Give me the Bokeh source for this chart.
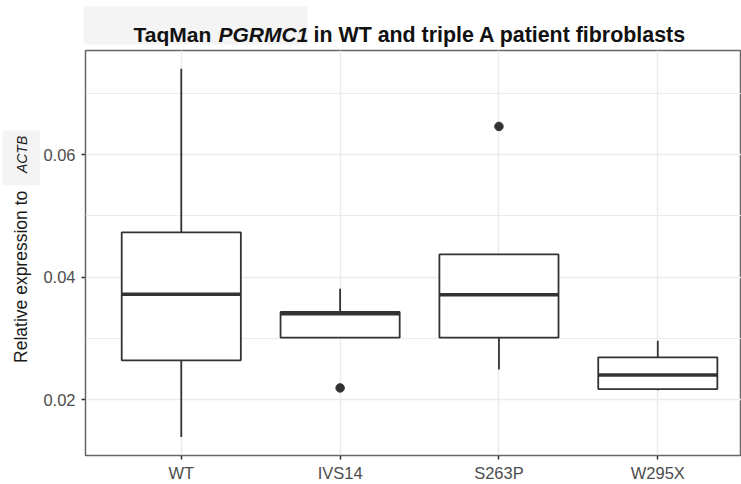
from math import pi
from bokeh.plotting import figure
from bokeh.layouts import column, row
from bokeh.models import Range1d, FixedTicker, NumeralTickFormatter, ColumnDataSource
from bokeh.core.properties import value
from bokeh.transform import dodge
from bokeh.embed import file_html
from bokeh.resources import INLINE

# ---- data ----
categories = ["WT", "IVS14", "S263P", "W295X"]
whisker_low = [0.0139, 0.0301, 0.0249, 0.0215]
q1 = [0.0264, 0.0301, 0.0301, 0.0217]
median = [0.0372, 0.0340, 0.0371, 0.0240]
q3 = [0.0473, 0.0343, 0.0437, 0.0269]
whisker_high = [0.0740, 0.0381, 0.0437, 0.0296]
outlier_group = ["IVS14", "S263P"]
outlier_value = [0.0219, 0.0646]
y_ticks = [0.02, 0.04, 0.06]
y_minor_ticks = [0.03, 0.05, 0.07]

title_parts = ["TaqMan", "PGRMC1", "in WT and triple A patient fibroblasts"]
ylabel_parts = ["Relative expression to", "ACTB"]

FONT = "Liberation Sans"
BOX_C = "#333333"
PATCH_C = "#F4F4F4"
W, H = 741, 484
TITLE_H = 48
YLAB_W = 40
MAIN_H = H - TITLE_H
MAIN_W = W - YLAB_W


def bare(fig):
    fig.xaxis.visible = False
    fig.yaxis.visible = False
    fig.xgrid.visible = False
    fig.ygrid.visible = False
    fig.outline_line_color = None
    fig.background_fill_color = "white"
    fig.border_fill_color = "white"
    return fig


# ---- title strip (mixed italic) ----
pt = bare(figure(width=W, height=TITLE_H, output_backend="svg", toolbar_location=None,
                 x_range=Range1d(0, W), y_range=Range1d(TITLE_H, 0), min_border=0))
pt.quad(left=[83], right=[307], top=[6], bottom=[44], fill_color=PATCH_C, line_color=None)
base_y = 34
pt.text(x=[133], y=[base_y], text=title_parts[:1], text_font=value(FONT), text_font_size=value("21px"),
        text_font_style=value("bold"), text_color="#111111", text_align="left",
        text_baseline="alphabetic")
pt.text(x=[218], y=[base_y], text=title_parts[1:2], text_font=value(FONT), text_font_size=value("21px"),
        text_font_style=value("bold italic"), text_color="#111111", text_align="left",
        text_baseline="alphabetic")
pt.text(x=[313], y=[base_y], text=title_parts[2:], text_font=value(FONT), text_font_size=value("21.4px"),
        text_font_style=value("bold"), text_color="#111111", text_align="left",
        text_baseline="alphabetic")

# ---- y-axis label strip (mixed italic) ----
py = bare(figure(width=YLAB_W, height=MAIN_H, output_backend="svg", toolbar_location=None,
                 x_range=Range1d(0, YLAB_W), y_range=Range1d(H, TITLE_H), min_border=0))
py.quad(left=[2], right=[40], top=[134], bottom=[193], fill_color=PATCH_C, line_color=None)
py.text(x=[20], y=[199], text=ylabel_parts[:1], angle=pi / 2, text_font=value(FONT),
        text_font_size=value("17.5px"), text_color="#1A1A1A", text_align="right",
        text_baseline="middle")
py.text(x=[21], y=[180], text=ylabel_parts[1:], angle=pi / 2, text_font=value(FONT),
        text_font_size=value("14px"), text_font_style=value("italic"), text_color="#1A1A1A",
        text_align="left", text_baseline="middle")

# ---- main box plot ----
xpos = [i + 1 for i in range(len(categories))]
src = ColumnDataSource(dict(x=xpos, lo=whisker_low, q1=q1, med=median, q3=q3, hi=whisker_high))
out_x = [categories.index(g) + 1 for g in outlier_group]

p = figure(width=MAIN_W, height=MAIN_H, output_backend="svg", toolbar_location=None,
           x_range=Range1d(0.397, 4.527), y_range=Range1d(0.01086, 0.0770),
           min_border_left=83 - YLAB_W, min_border_right=0, min_border_top=2, min_border_bottom=26)
p.background_fill_color = "white"
p.border_fill_color = "white"
p.outline_line_color = "#666666"
p.outline_line_width = 1.5

half = 0.75 / 2
p.segment(x0="x", y0="hi", x1="x", y1="q3", source=src, line_color=BOX_C, line_width=1.8)
p.segment(x0="x", y0="lo", x1="x", y1="q1", source=src, line_color=BOX_C, line_width=1.8)
p.vbar(x="x", width=0.75, bottom="q1", top="q3", source=src, fill_color="white",
       line_color=BOX_C, line_width=1.8)
p.segment(x0=dodge("x", -half), y0="med", x1=dodge("x", half), y1="med", source=src,
          line_color=BOX_C, line_width=3.6)
p.scatter(out_x, outlier_value, size=8.5, color=BOX_C)

p.xaxis.ticker = FixedTicker(ticks=xpos)
p.xaxis.major_label_overrides = {x: c for x, c in zip(xpos, categories)}
p.yaxis.ticker = FixedTicker(ticks=y_ticks, minor_ticks=y_minor_ticks)
p.yaxis.formatter = NumeralTickFormatter(format="0.00")
for ax in (p.xaxis[0], p.yaxis[0]):
    ax.axis_line_color = None
    ax.major_tick_line_color = "#333333"
    ax.major_tick_line_width = 1.5
    ax.major_tick_out = 4
    ax.major_tick_in = 0
    ax.minor_tick_line_color = None
    ax.major_label_text_font = FONT
    ax.major_label_text_font_size = "16.5px"
    ax.major_label_text_color = "#4D4D4D"
p.xaxis.major_label_standoff = 4
p.yaxis.major_label_standoff = 6

p.xgrid.grid_line_color = "#EBEBEB"
p.xgrid.grid_line_width = 1.5
p.ygrid.grid_line_color = "#EBEBEB"
p.ygrid.grid_line_width = 1.5
p.ygrid.minor_grid_line_color = "#EBEBEB"
p.ygrid.minor_grid_line_width = 1.2

layout = column(pt, row(py, p, spacing=0), spacing=0)
open("out.html", "w").write(file_html(layout, INLINE))
